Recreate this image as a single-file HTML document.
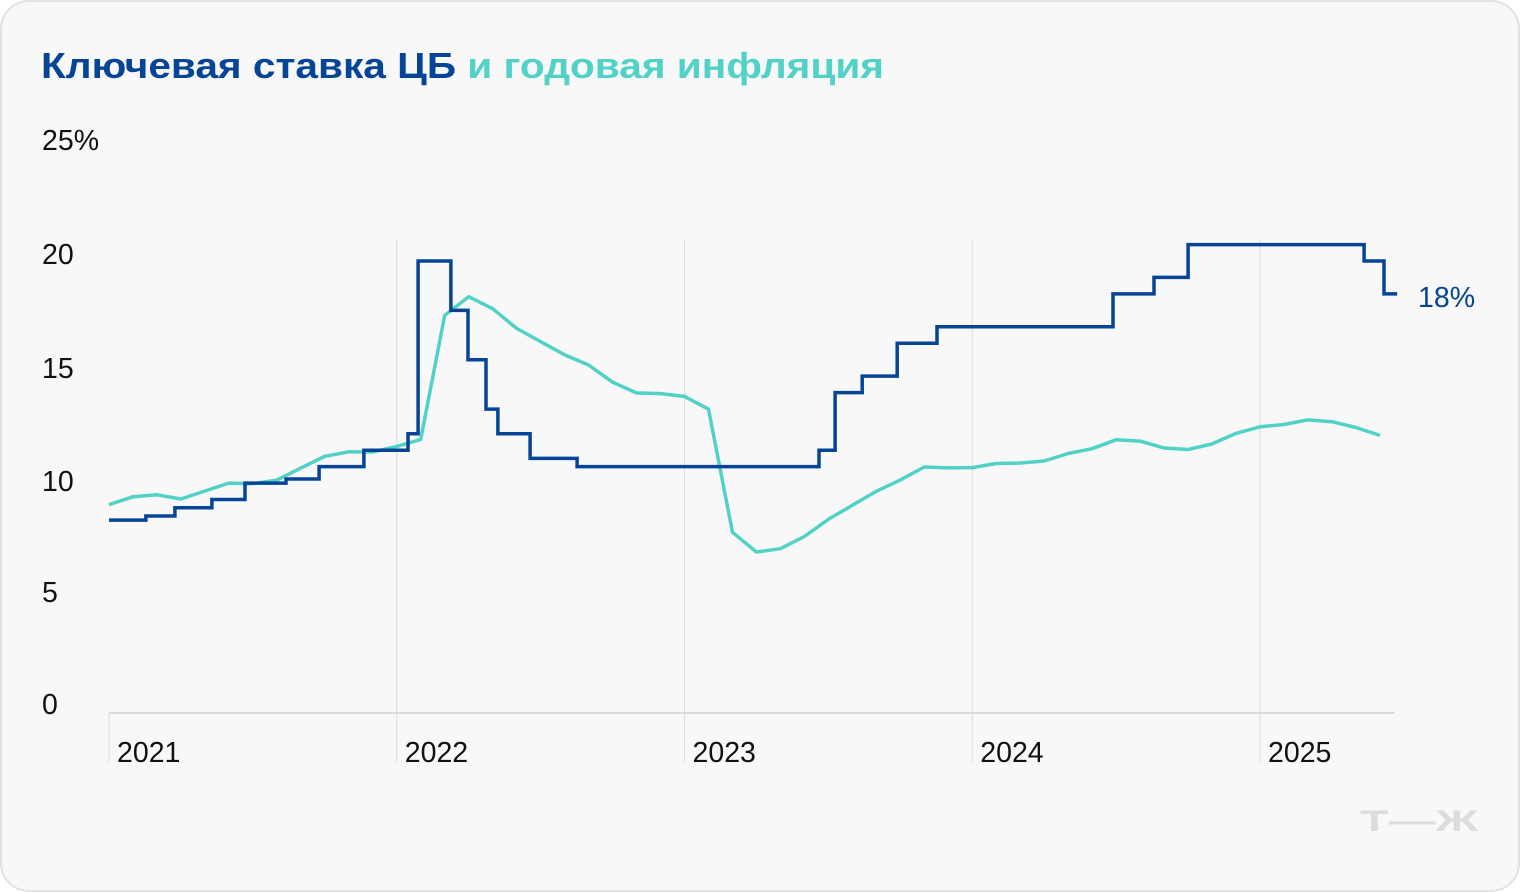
<!DOCTYPE html>
<html><head><meta charset="utf-8"><style>
html,body{margin:0;padding:0;background:#fff;}
svg{display:block;font-family:"Liberation Sans","Noto Sans CJK SC",sans-serif;}
</style></head><body>
<svg id="chart" width="1520" height="892" viewBox="0 0 1520 892">
<rect x="1" y="1" width="1518" height="890" rx="28" fill="#f8f8f8" stroke="#e2e2e2" stroke-width="2"/>
<text x="41" y="78" font-size="36" font-weight="bold" textLength="843" lengthAdjust="spacingAndGlyphs"><tspan fill="#054497">Ключевая ставка ЦБ</tspan><tspan fill="#52d1c6"> и годовая инфляция</tspan></text>
<g id="grid"></g>
<g id="yaxis"></g>
<g id="xaxis"></g>
<g id="series"></g>
<text x="1418" y="307" font-size="28.5" fill="#054497">18%</text>
<text x="1360" y="831" font-size="30" font-weight="bold" fill="#dcdcdc" textLength="118" lengthAdjust="spacingAndGlyphs">Т—Ж</text>
</svg>
<script>
const yTickLabels = ["0","5","10","15","20","25%"];
const yTickBaselines = [714,602,491,378,264,150];
const xYears = ["2021","2022","2023","2024","2025"];
// key rate: [months since Jan 2021, rate %]
const rateMonths = [0,1.54,2.75,4.29,5.67,7.38,8.76,10.63,12.47,12.89,14.26,14.97,15.72,16.22,17.56,19.52,29.61,30.28,31.41,32.87,34.53,41.87,43.58,45.0,52.34,53.17,53.72];
const rateValues = [4.25,4.5,5,5.5,6.5,6.75,7.5,8.5,9.5,20,17,14,11,9.5,8,7.5,8.5,12,13,15,16,18,19,21,20,18,18];
// annual inflation, monthly from Jan 2021
const inflValues = [5.19,5.67,5.79,5.53,6.02,6.50,6.46,6.68,7.41,8.13,8.40,8.39,
 8.73,9.15,16.69,17.83,17.10,15.90,15.10,14.30,13.68,12.63,11.98,11.94,
 11.77,10.99,3.51,2.31,2.51,3.25,4.30,5.15,6.00,6.69,7.48,7.42,
 7.44,7.69,7.72,7.84,8.30,8.59,9.13,9.05,8.63,8.54,8.88,9.52,
 9.92,10.06,10.34,10.23,9.88,9.40];
const NS="http://www.w3.org/2000/svg";
const x = m => 109 + m*(1260-109)/48;
const y = v => 590 - v*16.45;
function mk(tag, attrs, parent){const e=document.createElementNS(NS,tag);for(const k in attrs)e.setAttribute(k,attrs[k]);parent.appendChild(e);return e;}
const grid=document.getElementById('grid'),ya=document.getElementById('yaxis'),xa=document.getElementById('xaxis'),se=document.getElementById('series');
xYears.forEach((yr,i)=>{
  const gx=x(i*12);
  const l=mk('line',{x1:gx,x2:gx,y1:i==0?713:240,y2:762,stroke:'#dcdcdc','stroke-width':1},grid);
  
  
  const t=mk('text',{x:gx+8,y:762,'font-size':28.5,fill:'#111'},xa);
  t.textContent=yr;
  
  
});
const ax=mk('line',{x1:109,x2:1395,y1:713,y2:713,stroke:'#cfcfcf','stroke-width':1.5},grid);


yTickLabels.forEach((lab,i)=>{
  const t=mk('text',{x:42,y:yTickBaselines[i],'font-size':28.5,fill:'#111'},ya);
  t.textContent=lab;
  
  
});
let di='';
inflValues.forEach((v,i)=>{di+=(i?'L':'M')+x(i).toFixed(1)+','+y(v).toFixed(1);});
const pi=mk('path',{d:di,fill:'none',stroke:'#52d1c6','stroke-width':3.5,'stroke-linejoin':'round'},se);


let dr='';
rateMonths.forEach((m,i)=>{
  if(i==0){dr='M'+x(m).toFixed(1)+','+y(rateValues[0]).toFixed(1);}
  else{dr+='H'+x(m).toFixed(1)+'V'+y(rateValues[i]).toFixed(1);}
});
const pr=mk('path',{d:dr,fill:'none',stroke:'#054497','stroke-width':3.5,'stroke-linejoin':'miter'},se);


</script>
</body></html>
